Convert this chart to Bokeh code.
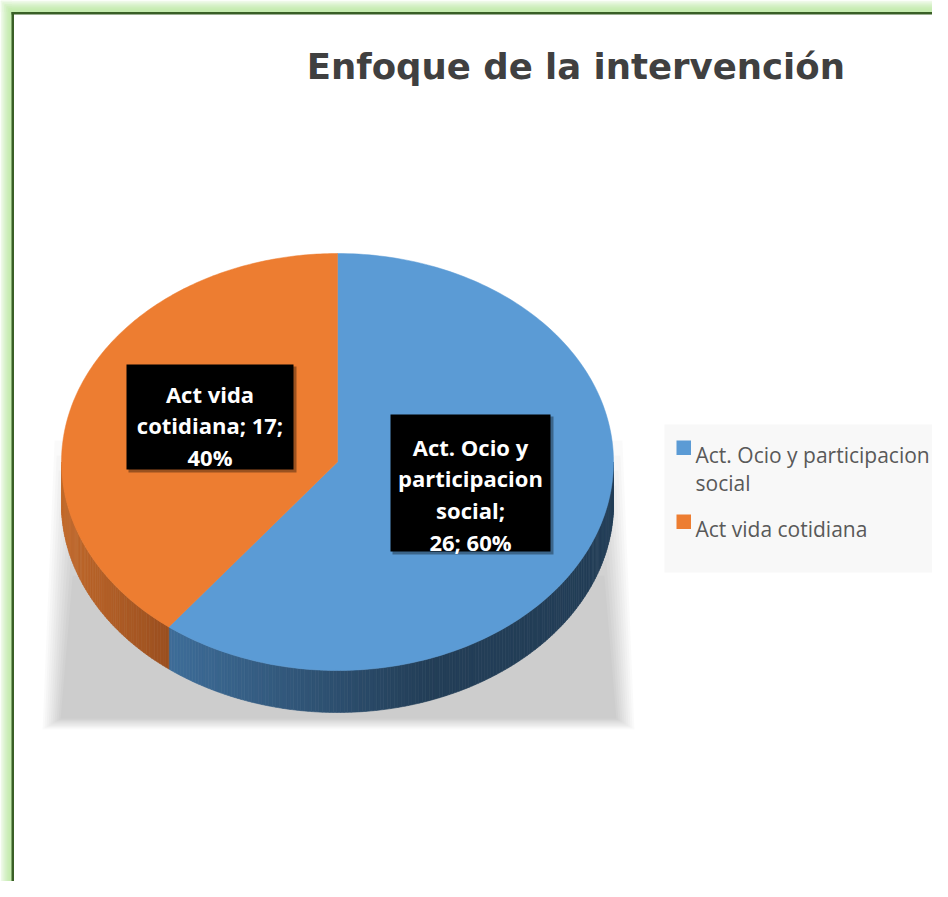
import numpy as np
import textwrap
from bokeh.plotting import figure
from bokeh.models import Range1d
from bokeh.core.properties import value
from bokeh.embed import file_html
from bokeh.resources import INLINE

# ---------------- data ----------------
title_text = "Enfoque de  la intervención"
categories = ["Act. Ocio y participacion social", "Act vida cotidiana"]
values = [26, 17]
colors = ["#5b9bd5", "#ed7d31"]
side_light = ["#3e6d99", "#c26a2c"]
side_dark = ["#233e57", "#9a4f1f"]

FONT = "Open Sans"
TITLE_FONT = "DejaVu Sans"

# ---------------- figure (pixel coordinates, y downwards) ----------------
W, H = 932, 881
OX, OY = 0, 0
p = figure(width=W, height=H, output_backend="svg", toolbar_location=None,
           x_range=Range1d(OX, OX + W), y_range=Range1d(OY + H, OY),
           x_axis_location=None, y_axis_location=None, min_border=0)
p.grid.visible = False
p.outline_line_color = None
p.background_fill_color = "white"
p.border_fill_color = "white"

# ---------------- frame with green glow ----------------
glow = ["#eef9e8", "#e2f5d7", "#d6f1c8", "#cdeebb", "#c7ecb2", "#c5ecaf"]
for k, c in enumerate(glow):
    a = k * 2
    p.quad(left=[a, a], right=[11.5, 1000], top=[a, a], bottom=[1000, 11.5],
           fill_color=c, line_color=None)
p.quad(left=[11, 11], right=[13.5, 1000], top=[11.5, 11.5], bottom=[1000, 14],
       fill_color="#395f26", line_color=None)

# ---------------- pie geometry ----------------
cx, cy, rx, ry, depth = 337, 461.5, 276, 208.5, 42


def pt(theta):
    return cx + rx * np.sin(theta), cy - ry * np.cos(theta)


def hexlerp(c1, c2, t):
    a = [int(c1[i:i + 2], 16) for i in (1, 3, 5)]
    b = [int(c2[i:i + 2], 16) for i in (1, 3, 5)]
    return "#" + "".join(f"{int(round(a[k] + (b[k] - a[k]) * t)):02x}" for k in range(3))


total = float(sum(values))
fracs = [v / total for v in values]
bounds = np.concatenate([[0.0], np.cumsum(fracs)]) * 2 * np.pi

# soft shadow under the pie
n_layers = 10
for i in range(n_layers):
    d = i * 2.0
    top = 440 + i * 15
    xs = [54 + d, 622 - d, 634 - d, 42 + d]
    ys = [top, top, 729 - d * 0.6, 729 - d * 0.6]
    p.patch(xs, ys, fill_color="black", fill_alpha=0.02, line_color=None)

# sides (front half only)
side_xs, side_ys, side_cols = [], [], []
for i in range(len(values)):
    a0, a1 = max(bounds[i], np.pi / 2), min(bounds[i + 1], 3 * np.pi / 2)
    if a1 <= a0:
        continue
    n = max(int((a1 - a0) / np.pi * 240), 4)
    th = np.linspace(a0, a1, n + 1)
    xl = [pt(t)[0] for t in th]
    xmin, xmax = min(xl), max(xl)
    for k in range(n):
        x0, y0 = pt(th[k])
        x1, y1 = pt(th[k + 1])
        side_xs.append([x0, x1, x1, x0])
        side_ys.append([y0, y1, y1 + depth, y0 + depth])
        xm = 0.5 * (x0 + x1)
        if i == 0:
            t = np.clip((xm - xmin) / 260.0, 0, 1)
        else:
            t = np.clip((xm - xmin) / max(xmax - xmin, 1), 0, 1)
        side_cols.append(hexlerp(side_light[i], side_dark[i], t))
p.patches(side_xs, side_ys, fill_color=side_cols, line_color=side_cols, line_width=0.6)

# top faces
for i in range(len(values)):
    th = np.linspace(bounds[i], bounds[i + 1], 200)
    xs = [cx] + [pt(t)[0] for t in th]
    ys = [cy] + [pt(t)[1] for t in th]
    p.patch(xs, ys, fill_color=colors[i], line_color=colors[i], line_width=0.5)

# ---------------- data labels ----------------
pcts = [int(round(f * 100)) for f in fracs]
label_lines = [
    textwrap.wrap(categories[0] + ";", 13) + [f"{values[0]}; {pcts[0]}%"],
    textwrap.wrap(f"{categories[1]}; {values[1]};", 14) + [f"{pcts[1]}%"],
]
label_boxes = [(390, 550, 414, 551), (126, 293, 364, 469)]
first_baseline = [446, 393]
line_step = 31.8
for i in range(len(values)):
    l, r, t, b = label_boxes[i]
    p.quad(left=[l + 2], right=[r + 3], top=[t + 2], bottom=[b + 3],
           fill_color="black", fill_alpha=0.35, line_color=None)
    p.quad(left=[l], right=[r], top=[t], bottom=[b], fill_color="black", line_color=None)
    lines = label_lines[i]
    p.text(x=[(l + r) / 2] * len(lines),
           y=[first_baseline[i] + k * line_step for k in range(len(lines))],
           text=lines, text_font=value(FONT), text_font_style="bold",
           text_font_size="22px", text_color="white",
           text_align="center", text_baseline="alphabetic")

# ---------------- legend ----------------
p.quad(left=[664], right=[1000], top=[424], bottom=[572], fill_color="#f8f8f8", line_color=None)
leg_sq_top = [440, 514]
for i, cat in enumerate(categories):
    p.quad(left=[676], right=[690.5], top=[leg_sq_top[i]], bottom=[leg_sq_top[i] + 14.5],
           fill_color=colors[i], line_color=None)
    lines = textwrap.wrap(cat, 25)
    p.text(x=[695] * len(lines), y=[leg_sq_top[i] + 14 + k * 28 for k in range(len(lines))],
           text=lines, text_font=value(FONT), text_font_size="21px", text_color="#595959",
           text_align="left", text_baseline="alphabetic")

# ---------------- title ----------------
p.text(x=[581.5], y=[66], text=[title_text], text_font=value(TITLE_FONT), text_font_style="bold",
       text_font_size="35.5px", text_color="#404040", text_align="center",
       text_baseline="alphabetic")

open("out.html", "w").write(file_html(p, INLINE))
